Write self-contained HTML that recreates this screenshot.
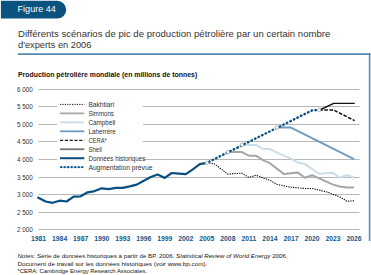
<!DOCTYPE html>
<html><head><meta charset="utf-8">
<style>
html,body{margin:0;padding:0;background:#fff;}
body{width:371px;height:275px;overflow:hidden;position:relative;}
svg{position:absolute;left:0;top:0;font-family:"Liberation Sans",sans-serif;}
</style></head><body>
<svg width="371" height="275" viewBox="0 0 371 275">
<path d="M0.9 0.8 H57.3 A8.9 8.9 0 0 1 57.3 18.6 H0.9 Z" fill="#0b537f"/>
<text x="17.6" y="12.4" font-size="8.9" fill="#fff" textLength="38.2" lengthAdjust="spacingAndGlyphs">Figure 44</text>
<g font-size="9.4" fill="#333">
<text x="18" y="37" textLength="312.3" lengthAdjust="spacingAndGlyphs">Différents scénarios de pic de production pétrolière par un certain nombre</text>
<text x="18" y="48.3" textLength="73.4" lengthAdjust="spacingAndGlyphs">d'experts en 2006</text>
</g>
<line x1="18" y1="54.1" x2="370.4" y2="54.1" stroke="#5588b0" stroke-width="1.7"/>
<line x1="369.6" y1="53.3" x2="369.6" y2="241" stroke="#5588b0" stroke-width="1.6"/>
<text x="18" y="76.8" font-size="7" font-weight="bold" fill="#111" textLength="179.2" lengthAdjust="spacingAndGlyphs">Production pétrolière mondiale (en millions de tonnes)</text>
<g stroke="#b6b6b6" stroke-width="1"><line x1="38.5" y1="89.50" x2="359.5" y2="89.50"/><line x1="38.5" y1="106.50" x2="359.5" y2="106.50"/><line x1="38.5" y1="124.50" x2="359.5" y2="124.50"/><line x1="38.5" y1="141.50" x2="359.5" y2="141.50"/><line x1="38.5" y1="159.50" x2="359.5" y2="159.50"/><line x1="38.5" y1="177.50" x2="359.5" y2="177.50"/><line x1="38.5" y1="194.50" x2="359.5" y2="194.50"/><line x1="38.5" y1="212.50" x2="359.5" y2="212.50"/><line x1="38.5" y1="229.50" x2="359.5" y2="229.50"/></g>
<g font-size="6.9" fill="#333"><text x="17" y="92.10" textLength="15.9" lengthAdjust="spacingAndGlyphs">6 000</text><text x="17" y="109.10" textLength="15.9" lengthAdjust="spacingAndGlyphs">5 500</text><text x="17" y="127.10" textLength="15.9" lengthAdjust="spacingAndGlyphs">5 000</text><text x="17" y="144.10" textLength="15.9" lengthAdjust="spacingAndGlyphs">4 500</text><text x="17" y="162.10" textLength="15.9" lengthAdjust="spacingAndGlyphs">4 000</text><text x="17" y="180.10" textLength="15.9" lengthAdjust="spacingAndGlyphs">3 500</text><text x="17" y="197.10" textLength="15.9" lengthAdjust="spacingAndGlyphs">3 000</text><text x="17" y="215.10" textLength="15.9" lengthAdjust="spacingAndGlyphs">2 500</text><text x="17" y="232.10" textLength="15.9" lengthAdjust="spacingAndGlyphs">2 000</text></g>
<g font-size="6.8" font-weight="bold" fill="#15588a" text-anchor="middle"><text x="38.60" y="240.8">1981</text><text x="59.63" y="240.8">1984</text><text x="80.66" y="240.8">1987</text><text x="101.69" y="240.8">1990</text><text x="122.72" y="240.8">1993</text><text x="143.75" y="240.8">1996</text><text x="164.78" y="240.8">1999</text><text x="185.81" y="240.8">2002</text><text x="206.84" y="240.8">2005</text><text x="227.87" y="240.8">2008</text><text x="248.90" y="240.8">2011</text><text x="269.93" y="240.8">2014</text><text x="290.96" y="240.8">2017</text><text x="311.99" y="240.8">2020</text><text x="333.02" y="240.8">2023</text><text x="354.05" y="240.8">2026</text></g>
<rect x="57" y="99" width="86" height="72" fill="#fff"/>
<g font-size="6.6" fill="#333"><g transform="translate(0,104.40)"><line x1="60" x2="84.3" stroke="#111" stroke-width="1" stroke-dasharray="1.2 1.2"/></g><text x="88.4" y="106.90" textLength="25.8" lengthAdjust="spacingAndGlyphs">Bakhtiari</text><g transform="translate(0,113.37)"><line x1="60" x2="84.3" stroke="#a9a9a9" stroke-width="1.8"/></g><text x="88.4" y="115.87" textLength="25.5" lengthAdjust="spacingAndGlyphs">Simmons</text><g transform="translate(0,122.34)"><line x1="60" x2="84.3" stroke="#cbdde9" stroke-width="1.8"/></g><text x="88.4" y="124.84" textLength="26.9" lengthAdjust="spacingAndGlyphs">Campbell</text><g transform="translate(0,131.31)"><line x1="60" x2="84.3" stroke="#6e9dc1" stroke-width="1.8"/></g><text x="88.4" y="133.81" textLength="27.4" lengthAdjust="spacingAndGlyphs">Laherrère</text><g transform="translate(0,140.28)"><line x1="60" x2="84.3" stroke="#222" stroke-width="1.2" stroke-dasharray="3.2 1.6"/></g><text x="88.4" y="142.78" textLength="18.4" lengthAdjust="spacingAndGlyphs">CERA*</text><g transform="translate(0,149.25)"><line x1="60" x2="84.3" stroke="#747474" stroke-width="1.8"/></g><text x="88.4" y="151.75" textLength="13.6" lengthAdjust="spacingAndGlyphs">Shell</text><g transform="translate(0,158.22)"><line x1="60" x2="84.3" stroke="#0a4d80" stroke-width="2"/></g><text x="88.4" y="160.72" textLength="57.0" lengthAdjust="spacingAndGlyphs">Données historiques</text><g transform="translate(0,167.19)"><line x1="60.5" x2="82.5" stroke="#0b5891" stroke-width="0.6" stroke-opacity="0.7"/><line x1="61.1" x2="82.5" stroke="#0b5891" stroke-width="2.3" stroke-linecap="round" stroke-dasharray="0.01 3.52"/></g><text x="88.4" y="169.69" textLength="64.0" lengthAdjust="spacingAndGlyphs">Augmentation prévue</text></g>
<g fill="none" stroke-linejoin="round">
<polyline points="206.84,162.80 213.85,163.50 227.87,174.20 241.89,173.10 248.90,177.40 255.91,175.30 269.93,180.30 276.94,184.30 290.96,187.20 304.98,188.50 311.99,188.40 326.01,191.70 340.03,196.90 347.04,201.30 354.05,200.80" stroke="#000" stroke-width="1.05" stroke-dasharray="1.3 1.1"/>
<polyline points="227.87,152.10 241.89,152.10 248.90,155.70 255.91,155.70 262.92,160.20 269.93,163.20 283.95,174.10 297.97,172.60 304.98,177.70 311.99,175.20 333.02,184.60 340.03,186.50 347.04,187.60 354.05,187.60" stroke="#a6a6a6" stroke-width="2"/>
<polyline points="241.89,144.90 255.91,144.90 262.92,149.00 269.93,149.00 276.94,152.60 290.96,158.60 297.97,162.60 304.98,164.10 319.00,173.80 333.02,172.70 340.03,177.80 347.04,175.00 354.05,177.80" stroke="#cbdde9" stroke-width="2"/>
<polyline points="276.94,127.60 290.96,127.60 354.05,159.20" stroke="#6e9cc0" stroke-width="2"/>
<polyline points="319.70,110.00 333.72,103.40 354.75,103.40" stroke="#111" stroke-width="1.4"/>
<polyline points="319.70,110.10 333.72,110.10 354.75,120.70" stroke="#111" stroke-width="1.5" stroke-dasharray="3.6 1.5" stroke-dashoffset="0.5"/>
<polyline points="37.4,197.3 45.61,201.50 52.62,202.80 59.63,200.70 66.64,201.50 73.65,196.70 80.66,196.30 87.67,192.30 94.68,191.10 101.69,188.30 108.70,189.10 115.71,187.80 122.72,187.80 129.73,186.40 136.74,184.60 143.75,180.70 150.76,177.00 157.77,174.50 164.78,177.90 171.79,173.00 178.80,173.60 185.81,174.20 192.82,169.30 199.83,164.20 206.84,162.80" stroke="#0a4f82" stroke-width="2.2"/>
<polyline points="206.84,162.80 311.99,110.40 319.00,110.00" stroke="#0a5286" stroke-width="2.4" stroke-linecap="round" stroke-dasharray="0.6 3.35" stroke-dashoffset="-2.4"/>
</g>
<g fill="#fff" stroke="#8c8c8c" stroke-width="0.6"><circle cx="206.84" cy="162.80" r="1.7"/><circle cx="227.87" cy="152.10" r="1.7"/><circle cx="241.89" cy="144.90" r="1.7"/><circle cx="276.94" cy="127.60" r="1.7"/><circle cx="319.30" cy="110.00" r="1.7"/></g>
<g font-size="6.2" fill="#161616">
<text x="17.4" y="258.1" textLength="270.2" lengthAdjust="spacingAndGlyphs"><tspan font-style="italic">Notes</tspan>: Série de données historiques à partir de BP. 2006. <tspan font-style="italic">Statistical Review of World Energy</tspan> 2006,</text>
<text x="17.4" y="265.6" textLength="189.9" lengthAdjust="spacingAndGlyphs">Document de travail sur les données historiques (voir www.bp.com).</text>
<text x="17.4" y="273.4" textLength="129.7" lengthAdjust="spacingAndGlyphs">*CERA: Cambridge Energy Research Associates.</text>
</g>
</svg>
</body></html>
